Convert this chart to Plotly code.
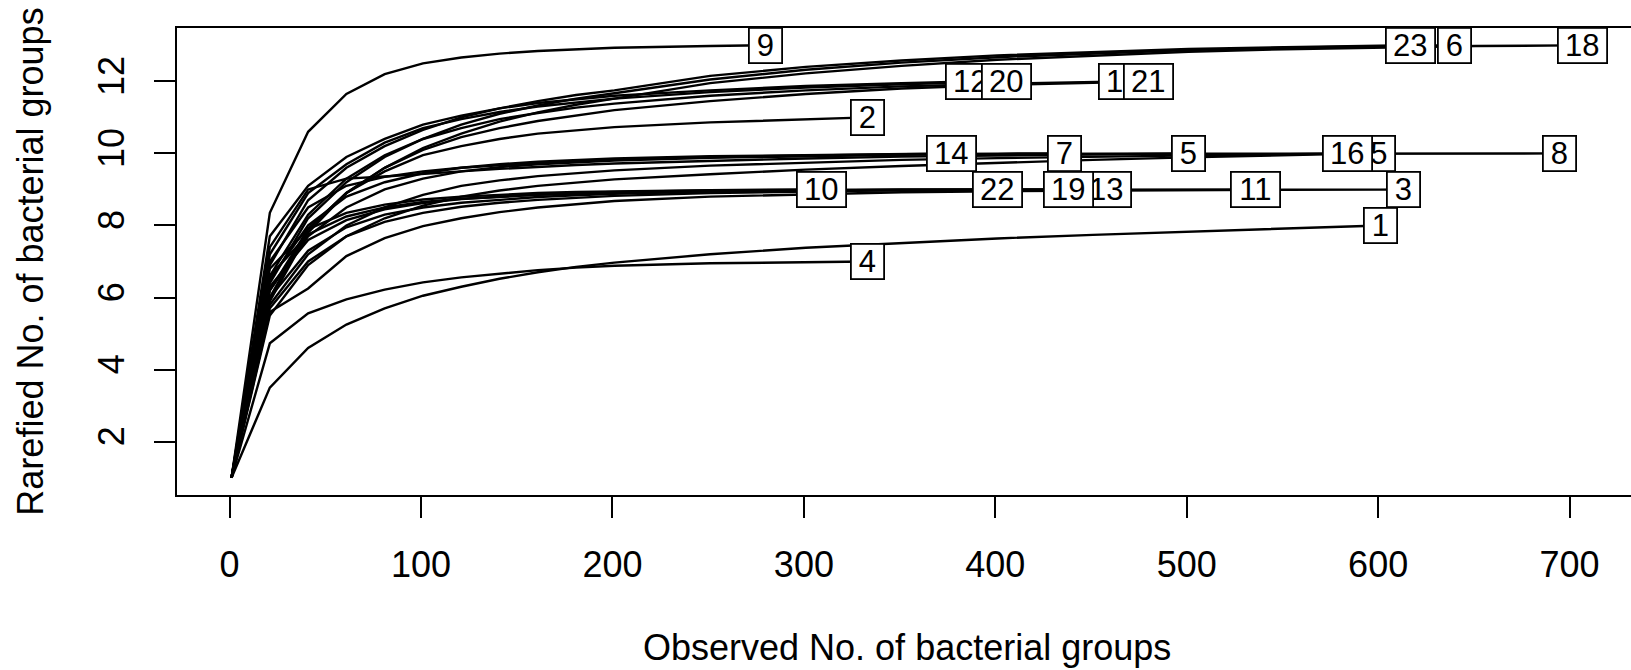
import plotly.graph_objects as go

# Rarefaction curves: richness of bacterial groups vs. number of observations
depth_grid = [1, 21, 41, 61, 81, 101, 121, 141, 161, 181, 201,
              251, 301, 351, 401, 451, 501, 551, 601, 651, 701]

sample_ids = [str(i) for i in range(1, 24)]
sample_size = [601, 333, 613, 333, 501, 640, 436, 695, 280, 309, 536, 387,
               458, 377, 596, 584, 467, 707, 438, 406, 480, 401, 617]

rich_1 = [1, 3.5, 4.6, 5.25, 5.7, 6.05, 6.3, 6.52, 6.7, 6.85, 6.97,
          7.2, 7.38, 7.52, 7.64, 7.74, 7.83, 7.91, 8]
rich_2 = [1, 6.0, 7.9, 8.9, 9.5, 9.95, 10.2, 10.4, 10.55, 10.65, 10.73,
          10.86, 10.95, 11]
rich_3 = [1, 5.6, 6.25, 7.15, 7.65, 7.98, 8.2, 8.37, 8.5, 8.6, 8.68,
          8.8, 8.87, 8.92, 8.95, 8.97, 8.985, 8.99, 8.995, 9]
rich_4 = [1, 4.73, 5.56, 5.95, 6.22, 6.42, 6.56, 6.67, 6.76, 6.83, 6.88,
          6.95, 6.99, 7]
rich_5 = [1, 6.2, 7.7, 8.5, 9.0, 9.3, 9.5, 9.62, 9.7, 9.76, 9.8,
          9.88, 9.93, 9.96, 9.98, 9.99, 10]
rich_6 = [1, 6.4, 8.2, 9.2, 9.9, 10.4, 10.8, 11.1, 11.33, 11.52, 11.67,
          12.05, 12.32, 12.52, 12.67, 12.78, 12.87, 12.93, 12.97, 13]
rich_7 = [1, 7.0, 8.5, 9.1, 9.35, 9.5, 9.6, 9.68, 9.74, 9.79, 9.83,
          9.9, 9.95, 9.98, 9.995, 10]
rich_8 = [1, 7.4, 9.0, 9.3, 9.36, 9.42, 9.5, 9.57, 9.63, 9.68, 9.72,
          9.8, 9.86, 9.91, 9.95, 9.97, 9.99, 9.995, 9.998, 10, 10]
rich_9 = [1, 8.35, 10.6, 11.65, 12.2, 12.5, 12.66, 12.77, 12.84, 12.89, 12.93,
          12.98, 13]
rich_10 = [1, 6.8, 7.9, 8.35, 8.58, 8.72, 8.8, 8.86, 8.9, 8.93, 8.95,
           8.98, 8.998, 9]
rich_11 = [1, 6.6, 7.75, 8.25, 8.5, 8.65, 8.74, 8.8, 8.85, 8.88, 8.91,
           8.95, 8.97, 8.985, 8.99, 8.995, 8.998, 9]
rich_12 = [1, 7.7, 9.1, 9.9, 10.4, 10.8, 11.05, 11.25, 11.4, 11.5, 11.6,
           11.75, 11.87, 11.95, 12]
rich_13 = [1, 5.7, 7.0, 7.7, 8.1, 8.35, 8.52, 8.63, 8.71, 8.77, 8.82,
           8.9, 8.95, 8.98, 8.99, 8.997, 9]
rich_14 = [1, 6.5, 8.0, 8.8, 9.2, 9.45, 9.6, 9.7, 9.77, 9.82, 9.86,
           9.92, 9.96, 9.99, 10]
rich_15 = [1, 5.5, 6.9, 7.7, 8.2, 8.55, 8.8, 8.97, 9.1, 9.2, 9.28,
           9.42, 9.55, 9.65, 9.74, 9.82, 9.89, 9.95, 10]
rich_16 = [1, 5.8, 7.2, 8.0, 8.5, 8.85, 9.1, 9.25, 9.37, 9.46, 9.53,
           9.66, 9.75, 9.82, 9.87, 9.91, 9.95, 9.98, 10]
rich_17 = [1, 6.6, 8.3, 9.3, 9.95, 10.4, 10.7, 10.95, 11.12, 11.27, 11.38,
           11.6, 11.75, 11.86, 11.93, 11.97, 12]
rich_18 = [1, 5.9, 7.8, 8.9, 9.6, 10.15, 10.55, 10.88, 11.14, 11.35, 11.52,
           11.95, 12.22, 12.43, 12.6, 12.72, 12.82, 12.89, 12.94, 12.98, 12.998, 13]
rich_19 = [1, 6.0, 7.3, 7.95, 8.3, 8.5, 8.63, 8.72, 8.79, 8.84, 8.88,
           8.94, 8.97, 8.99, 8.995, 9]
rich_20 = [1, 7.2, 8.9, 9.7, 10.3, 10.7, 10.95, 11.15, 11.3, 11.42, 11.52,
           11.7, 11.83, 11.92, 11.98, 12]
rich_21 = [1, 6.2, 7.9, 8.9, 9.6, 10.1, 10.45, 10.7, 10.9, 11.05, 11.2,
           11.45, 11.65, 11.8, 11.9, 11.96, 12]
rich_22 = [1, 6.3, 7.6, 8.15, 8.45, 8.62, 8.73, 8.8, 8.86, 8.9, 8.93,
           8.97, 8.99, 8.998, 9]
rich_23 = [1, 6.9, 8.7, 9.6, 10.2, 10.65, 11.0, 11.25, 11.45, 11.62, 11.75,
           12.15, 12.4, 12.58, 12.72, 12.82, 12.9, 12.95, 12.99, 13]

richness = [rich_1, rich_2, rich_3, rich_4, rich_5, rich_6, rich_7, rich_8,
            rich_9, rich_10, rich_11, rich_12, rich_13, rich_14, rich_15,
            rich_16, rich_17, rich_18, rich_19, rich_20, rich_21, rich_22,
            rich_23]

x_ticks = [0, 100, 200, 300, 400, 500, 600, 700]
y_ticks = [2, 4, 6, 8, 10, 12]

FONT = "Liberation Sans, Arial, Helvetica, sans-serif"

fig = go.Figure()

for sid, n, ys in zip(sample_ids, sample_size, richness):
    xs = [g for g in depth_grid if g < n] + [n]
    fig.add_trace(go.Scatter(
        x=xs, y=ys, mode="lines", name=sid,
        line=dict(color="black", width=2.4),
        hoverinfo="x+y+name", showlegend=False,
    ))

# boxed sample labels at the end of each curve; overlapping boxes are
# stacked so the later label sits on top
label_order = ["9", "23", "6", "18", "12", "20", "17", "21", "2",
               "14", "7", "5", "15", "16", "8",
               "10", "22", "13", "19", "11", "3", "1", "4"]
for sid in label_order:
    i = sample_ids.index(sid)
    fig.add_annotation(
        x=sample_size[i], y=richness[i][-1], text=sid,
        showarrow=False, xanchor="center", yanchor="middle",
        font=dict(family=FONT, size=31, color="black"),
        bgcolor="white", bordercolor="black", borderwidth=1.8,
        borderpad=0, width=15 + 16 * len(sid), height=33,
    )

fig.add_annotation(
    text="Observed No. of bacterial groups", xref="paper", yref="paper",
    x=0.502, y=-0.326, showarrow=False, xanchor="center", yanchor="middle",
    font=dict(family=FONT, size=36, color="black"),
)
fig.add_annotation(
    text="Rarefied No. of bacterial groups", xref="paper", yref="paper",
    x=-0.101, y=0.5, showarrow=False, xanchor="center", yanchor="middle",
    textangle=-90, font=dict(family=FONT, size=36, color="black"),
)

fig.update_layout(
    width=1631, height=670,
    margin=dict(l=177, r=0, t=28, b=175),
    paper_bgcolor="white", plot_bgcolor="white",
    font=dict(family=FONT, size=36, color="black"),
    xaxis=dict(
        range=[-27.5, 732.1], tickvals=x_ticks, ticks="outside",
        ticklen=21, tickwidth=2, tickcolor="black",
        showline=True, linecolor="black", linewidth=2, mirror=True,
        showgrid=False, zeroline=False, ticklabelstandoff=16,
        tickfont=dict(family=FONT, size=36, color="black"),
    ),
    yaxis=dict(
        range=[0.52, 13.48], tickvals=y_ticks, ticks="outside",
        ticklen=21, tickwidth=2, tickcolor="black",
        showline=True, linecolor="black", linewidth=2, mirror=False,
        showgrid=False, zeroline=False, tickangle=-90, ticklabelstandoff=16,
        tickfont=dict(family=FONT, size=36, color="black"),
    ),
)

fig.write_html("out.html")
